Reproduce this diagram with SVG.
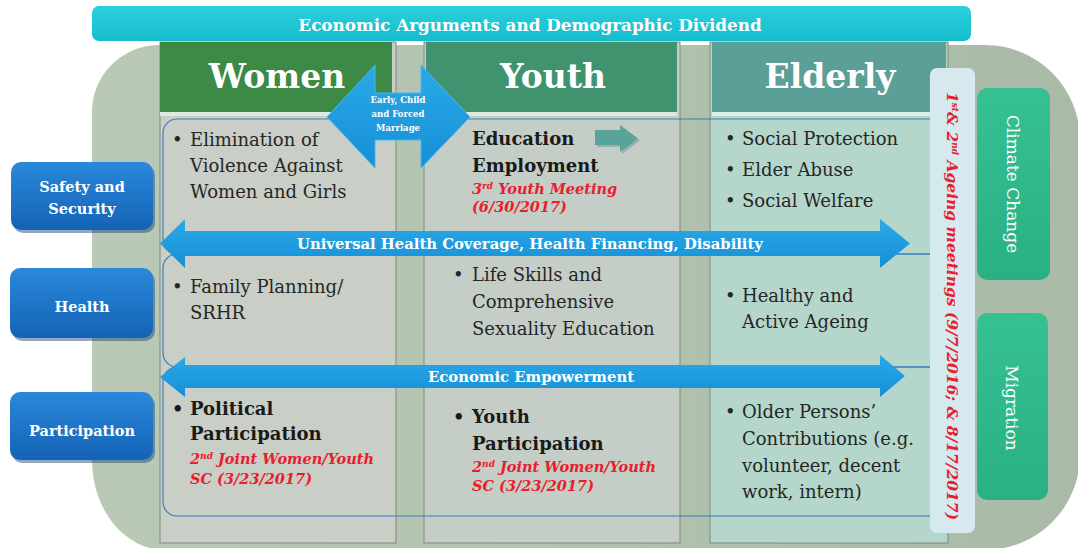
<svg xmlns="http://www.w3.org/2000/svg" width="1078" height="548" viewBox="0 0 1078 548">
<defs>
<linearGradient id="gBlue" x1="0" y1="0" x2="0" y2="1"><stop offset="0" stop-color="#2a88da"/><stop offset="1" stop-color="#1463b5"/></linearGradient>
<linearGradient id="gArrow" x1="0" y1="0" x2="0" y2="1"><stop offset="0" stop-color="#2aaae8"/><stop offset="1" stop-color="#168fd6"/></linearGradient>
<linearGradient id="gBanner" x1="0" y1="0" x2="0" y2="1"><stop offset="0" stop-color="#2bd0de"/><stop offset="1" stop-color="#16bccc"/></linearGradient>
<linearGradient id="gBg" x1="0" y1="0" x2="1" y2="0"><stop offset="0" stop-color="#b9c9b6"/><stop offset="1" stop-color="#a9bba6"/></linearGradient>
<linearGradient id="gGreen" x1="0" y1="0" x2="0" y2="1"><stop offset="0" stop-color="#36c193"/><stop offset="1" stop-color="#29b083"/></linearGradient>
<style>
.hdr{font-family:"DejaVu Serif",serif;font-weight:bold;font-size:33px;fill:#fff;text-anchor:middle}
.body{font-family:"DejaVu Serif",serif;font-size:18px;fill:#262626}
.bold{font-weight:bold;fill:#1a1a1a}
.red{font-family:"DejaVu Serif",serif;font-weight:bold;font-style:italic;font-size:14.5px;fill:#e8202c}
.lbl{font-family:"DejaVu Serif",serif;font-weight:bold;font-size:14.5px;fill:#fff;text-anchor:middle}
.arrlbl{font-family:"DejaVu Serif",serif;font-weight:bold;font-size:14.8px;fill:#fff;text-anchor:middle}
.vert{font-family:"DejaVu Serif",serif;font-size:17px;fill:#fff;text-anchor:middle}
.row{fill:none;stroke:#3b7cc2;stroke-width:1.2}
.col{stroke:#7d8c7a;stroke-width:1}
.shadow{fill:#0d3f73;opacity:0.45}
</style>
</defs>

<g id="background">
<path d="M158 45 H985 A95 95 0 0 1 1080 140 V455 A95 95 0 0 1 985 550 H165 A73 90 0 0 1 92 460 V112 A67 67 0 0 1 158 45 Z" fill="url(#gBg)"/>
</g>

<g id="banner">
<rect x="92" y="6" width="879" height="35" rx="7" fill="url(#gBanner)"/>
<text x="530" y="31" font-family="DejaVu Serif, serif" font-weight="bold" font-size="16.8" fill="#fff" text-anchor="middle">Economic Arguments and Demographic Dividend</text>
</g>

<g id="col-women">
<rect x="160" y="42" width="236" height="501" fill="#c9cec6" class="col"/>
<rect x="160" y="42" width="232" height="70" fill="#3c8a45"/>
<rect x="160" y="112" width="232" height="4" fill="#dfe9e2"/>
<text class="hdr" x="277" y="88">Women</text>
</g>

<g id="col-youth">
<rect x="424" y="42" width="256" height="501" fill="#c5cec6" class="col"/>
<rect x="426" y="42" width="251" height="70" fill="#419370"/>
<rect x="426" y="112" width="251" height="4" fill="#dfe9e2"/>
<text class="hdr" x="553" y="88">Youth</text>
</g>

<g id="col-elderly">
<rect x="710" y="42" width="238" height="501" fill="#b5d6cb" class="col"/>
<rect x="712" y="42" width="234" height="70" fill="#5aa098"/>
<rect x="712" y="112" width="234" height="4" fill="#dceee8"/>
<text class="hdr" x="830" y="88">Elderly</text>
</g>

<g id="rows">
<rect class="row" x="163" y="119" width="780" height="135" rx="14"/>
<rect class="row" x="163" y="254" width="780" height="113" rx="14"/>
<rect class="row" x="163" y="367" width="780" height="149" rx="14"/>
</g>

<g id="connectors">
<polygon id="arrow-uhc" points="160,243.5 185,219 185,231 880,231 880,219 910,243.5 880,268 880,256 185,256 185,268" fill="url(#gArrow)"/>
<polygon id="arrow-ee" points="160,377 185,357 185,365 880,365 880,355 905,376 880,397 880,388 185,388 185,397" fill="url(#gArrow)"/>
<polygon points="597,132 622,132 622,127 640,140.5 622,154 622,147 597,147" fill="#3f7f78" opacity="0.35"/>
<polygon id="arrow-edu" points="595,130 620,130 620,125 638,138.5 620,152 620,145 595,145" fill="#5aa39b"/>
</g>

<g id="arrow-labels">
<text class="arrlbl" x="530" y="249">Universal Health Coverage, Health Financing, Disability</text>
<text class="arrlbl" x="531" y="382" font-size="15.5">Economic Empowerment</text>
</g>

<g id="women-text">
<text class="body" x="172" y="146">•</text>
<text class="body" x="190" y="146">Elimination of</text>
<text class="body" x="190" y="172">Violence Against</text>
<text class="body" x="190" y="198">Women and Girls</text>
<text class="body" x="172" y="293">•</text>
<text class="body" x="190" y="293">Family Planning/</text>
<text class="body" x="190" y="319">SRHR</text>
<text class="body bold" x="172" y="415">•</text>
<text class="body bold" x="190" y="415">Political</text>
<text class="body bold" x="190" y="440">Participation</text>
<text class="red" x="190" y="464">2<tspan dy="-5" font-size="9">nd</tspan><tspan dy="5"> Joint Women/Youth</tspan></text>
<text class="red" x="190" y="484">SC (3/23/2017)</text>
</g>

<g id="youth-text">
<text class="body bold" x="472" y="145">Education</text>
<text class="body bold" x="472" y="172">Employment</text>
<text class="red" x="472" y="194">3<tspan dy="-5" font-size="9">rd</tspan><tspan dy="5"> Youth Meeting</tspan></text>
<text class="red" x="472" y="212">(6/30/2017)</text>
<text class="body" x="453" y="281">•</text>
<text class="body" x="472" y="281">Life Skills and</text>
<text class="body" x="472" y="308">Comprehensive</text>
<text class="body" x="472" y="335">Sexuality Education</text>
<text class="body bold" x="453" y="423">•</text>
<text class="body bold" x="472" y="423">Youth</text>
<text class="body bold" x="472" y="450">Participation</text>
<text class="red" x="472" y="472">2<tspan dy="-5" font-size="9">nd</tspan><tspan dy="5"> Joint Women/Youth</tspan></text>
<text class="red" x="472" y="491">SC (3/23/2017)</text>
</g>

<g id="elderly-text">
<text class="body" x="725" y="145">•</text>
<text class="body" x="742" y="145">Social Protection</text>
<text class="body" x="725" y="176">•</text>
<text class="body" x="742" y="176">Elder Abuse</text>
<text class="body" x="725" y="207">•</text>
<text class="body" x="742" y="207">Social Welfare</text>
<text class="body" x="725" y="302">•</text>
<text class="body" x="742" y="302">Healthy and</text>
<text class="body" x="742" y="328">Active Ageing</text>
<text class="body" x="725" y="418">•</text>
<text class="body" x="742" y="418">Older Persons’</text>
<text class="body" x="742" y="445">Contributions (e.g.</text>
<text class="body" x="742" y="472">volunteer, decent</text>
<text class="body" x="742" y="498">work, intern)</text>
</g>

<g id="early-marriage">
<polygon points="327,117 375,65 375,93 421,93 421,65 470,117 421,168 421,140 375,140 375,168" fill="url(#gArrow)" stroke="#48b6ea" stroke-width="1"/>
<text x="398" y="103" font-family="DejaVu Serif, serif" font-weight="bold" font-size="8.5" fill="#fff" text-anchor="middle">Early, Child</text>
<text x="398" y="117" font-family="DejaVu Serif, serif" font-weight="bold" font-size="8.5" fill="#fff" text-anchor="middle">and Forced</text>
<text x="398" y="131" font-family="DejaVu Serif, serif" font-weight="bold" font-size="8.5" fill="#fff" text-anchor="middle">Marriage</text>
</g>

<g id="ageing-meetings">
<rect x="930" y="68" width="45" height="465" rx="7" fill="#d5e9ef"/>
<text transform="rotate(90 952 306)" x="952" y="311.5" font-family="DejaVu Serif, serif" font-weight="bold" font-style="italic" font-size="15.5" fill="#e8202c" text-anchor="middle">1<tspan dy="-5" font-size="9">st</tspan><tspan dy="5">&amp; 2</tspan><tspan dy="-5" font-size="9">nd</tspan><tspan dy="5"> Ageing meetings (9/7/2016; &amp; 8/17/2017)</tspan></text>
</g>

<g id="climate-change">
<rect x="977" y="88" width="73" height="192" rx="10" fill="url(#gGreen)"/>
<text class="vert" transform="rotate(90 1013 184)" x="1013" y="190">Climate Change</text>
</g>

<g id="migration">
<rect x="977" y="313" width="71" height="187" rx="10" fill="url(#gGreen)"/>
<text class="vert" transform="rotate(90 1012 408)" x="1012" y="414">Migration</text>
</g>

<g id="safety-security">
<rect class="shadow" x="13" y="165" width="142" height="68" rx="10"/>
<rect x="11" y="162" width="142" height="68" rx="10" fill="url(#gBlue)"/>
<text class="lbl" x="82" y="192">Safety and</text>
<text class="lbl" x="82" y="214">Security</text>
</g>

<g id="health">
<rect class="shadow" x="12" y="271" width="143" height="70" rx="10"/>
<rect x="10" y="268" width="143" height="70" rx="10" fill="url(#gBlue)"/>
<text class="lbl" x="82" y="312">Health</text>
</g>

<g id="participation">
<rect class="shadow" x="12" y="395" width="143" height="68" rx="10"/>
<rect x="10" y="392" width="143" height="68" rx="10" fill="url(#gBlue)"/>
<text class="lbl" x="82" y="436">Participation</text>
</g>
</svg>
